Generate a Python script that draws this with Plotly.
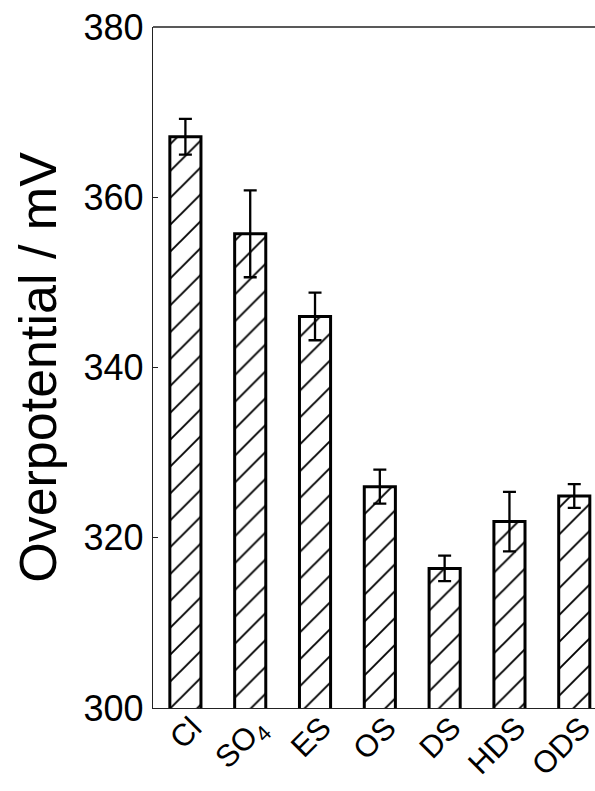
import plotly.graph_objects as go

# Electrolyte additives and measured overpotentials (mV)
categories = ["Cl", "SO<sub>4</sub>", "ES", "OS", "DS", "HDS", "ODS"]
overpotential = [367.1, 355.7, 346.0, 326.0, 316.4, 321.9, 324.9]
error = [2.1, 5.1, 2.8, 2.0, 1.5, 3.5, 1.4]

y_ticks = [300, 320, 340, 360, 380]

FONT = "Liberation Sans, Arial, sans-serif"

fig = go.Figure()
fig.add_trace(go.Bar(
    x=list(range(len(categories))),
    y=overpotential,
    base=0,
    width=0.48,
    marker=dict(
        color="white",
        line=dict(color="black", width=3),
        pattern=dict(shape="/", size=19, solidity=0.1, fgopacity=1,
                     fgcolor="black", bgcolor="white", fillmode="overlay"),
    ),
    error_y=dict(type="data", array=error, visible=True,
                 color="black", thickness=2.3, width=6.5),
))

fig.update_layout(
    width=595,
    height=791,
    margin=dict(l=153, r=0, t=27, b=83),
    paper_bgcolor="white",
    plot_bgcolor="white",
    showlegend=False,
    font=dict(family=FONT, color="black"),
    xaxis=dict(
        range=[-0.5, 6.32],
        tickmode="array",
        tickvals=list(range(len(categories))),
        ticktext=categories,
        tickangle=-45,
        tickfont=dict(size=31, family=FONT, color="black"),
        ticklabelstandoff=-12,
        ticklabelshift=7,
        ticklabeloverflow="allow",
        showline=True, linecolor="#222222", linewidth=1.3,
        ticks="", showgrid=False, zeroline=False,
        automargin=False,
    ),
    yaxis=dict(
        range=[300, 380],
        tickmode="array",
        tickvals=y_ticks,
        ticktext=[str(v) for v in y_ticks],
        tickfont=dict(size=36, family=FONT, color="black"),
        ticks="inside", ticklen=5, tickwidth=1.3, tickcolor="#222222",
        ticklabelstandoff=1,
        showline=True, linecolor="#222222", linewidth=1.3,
        showgrid=False, zeroline=False,
        title=dict(text="Overpotential / mV",
                   font=dict(size=52, family=FONT, color="black"),
                   standoff=10),
        automargin=False,
    ),
    shapes=[dict(type="line", xref="paper", yref="paper",
                 x0=0, x1=1, y0=1, y1=1,
                 line=dict(color="#222222", width=1.3))],
)

fig.write_html("out.html")
